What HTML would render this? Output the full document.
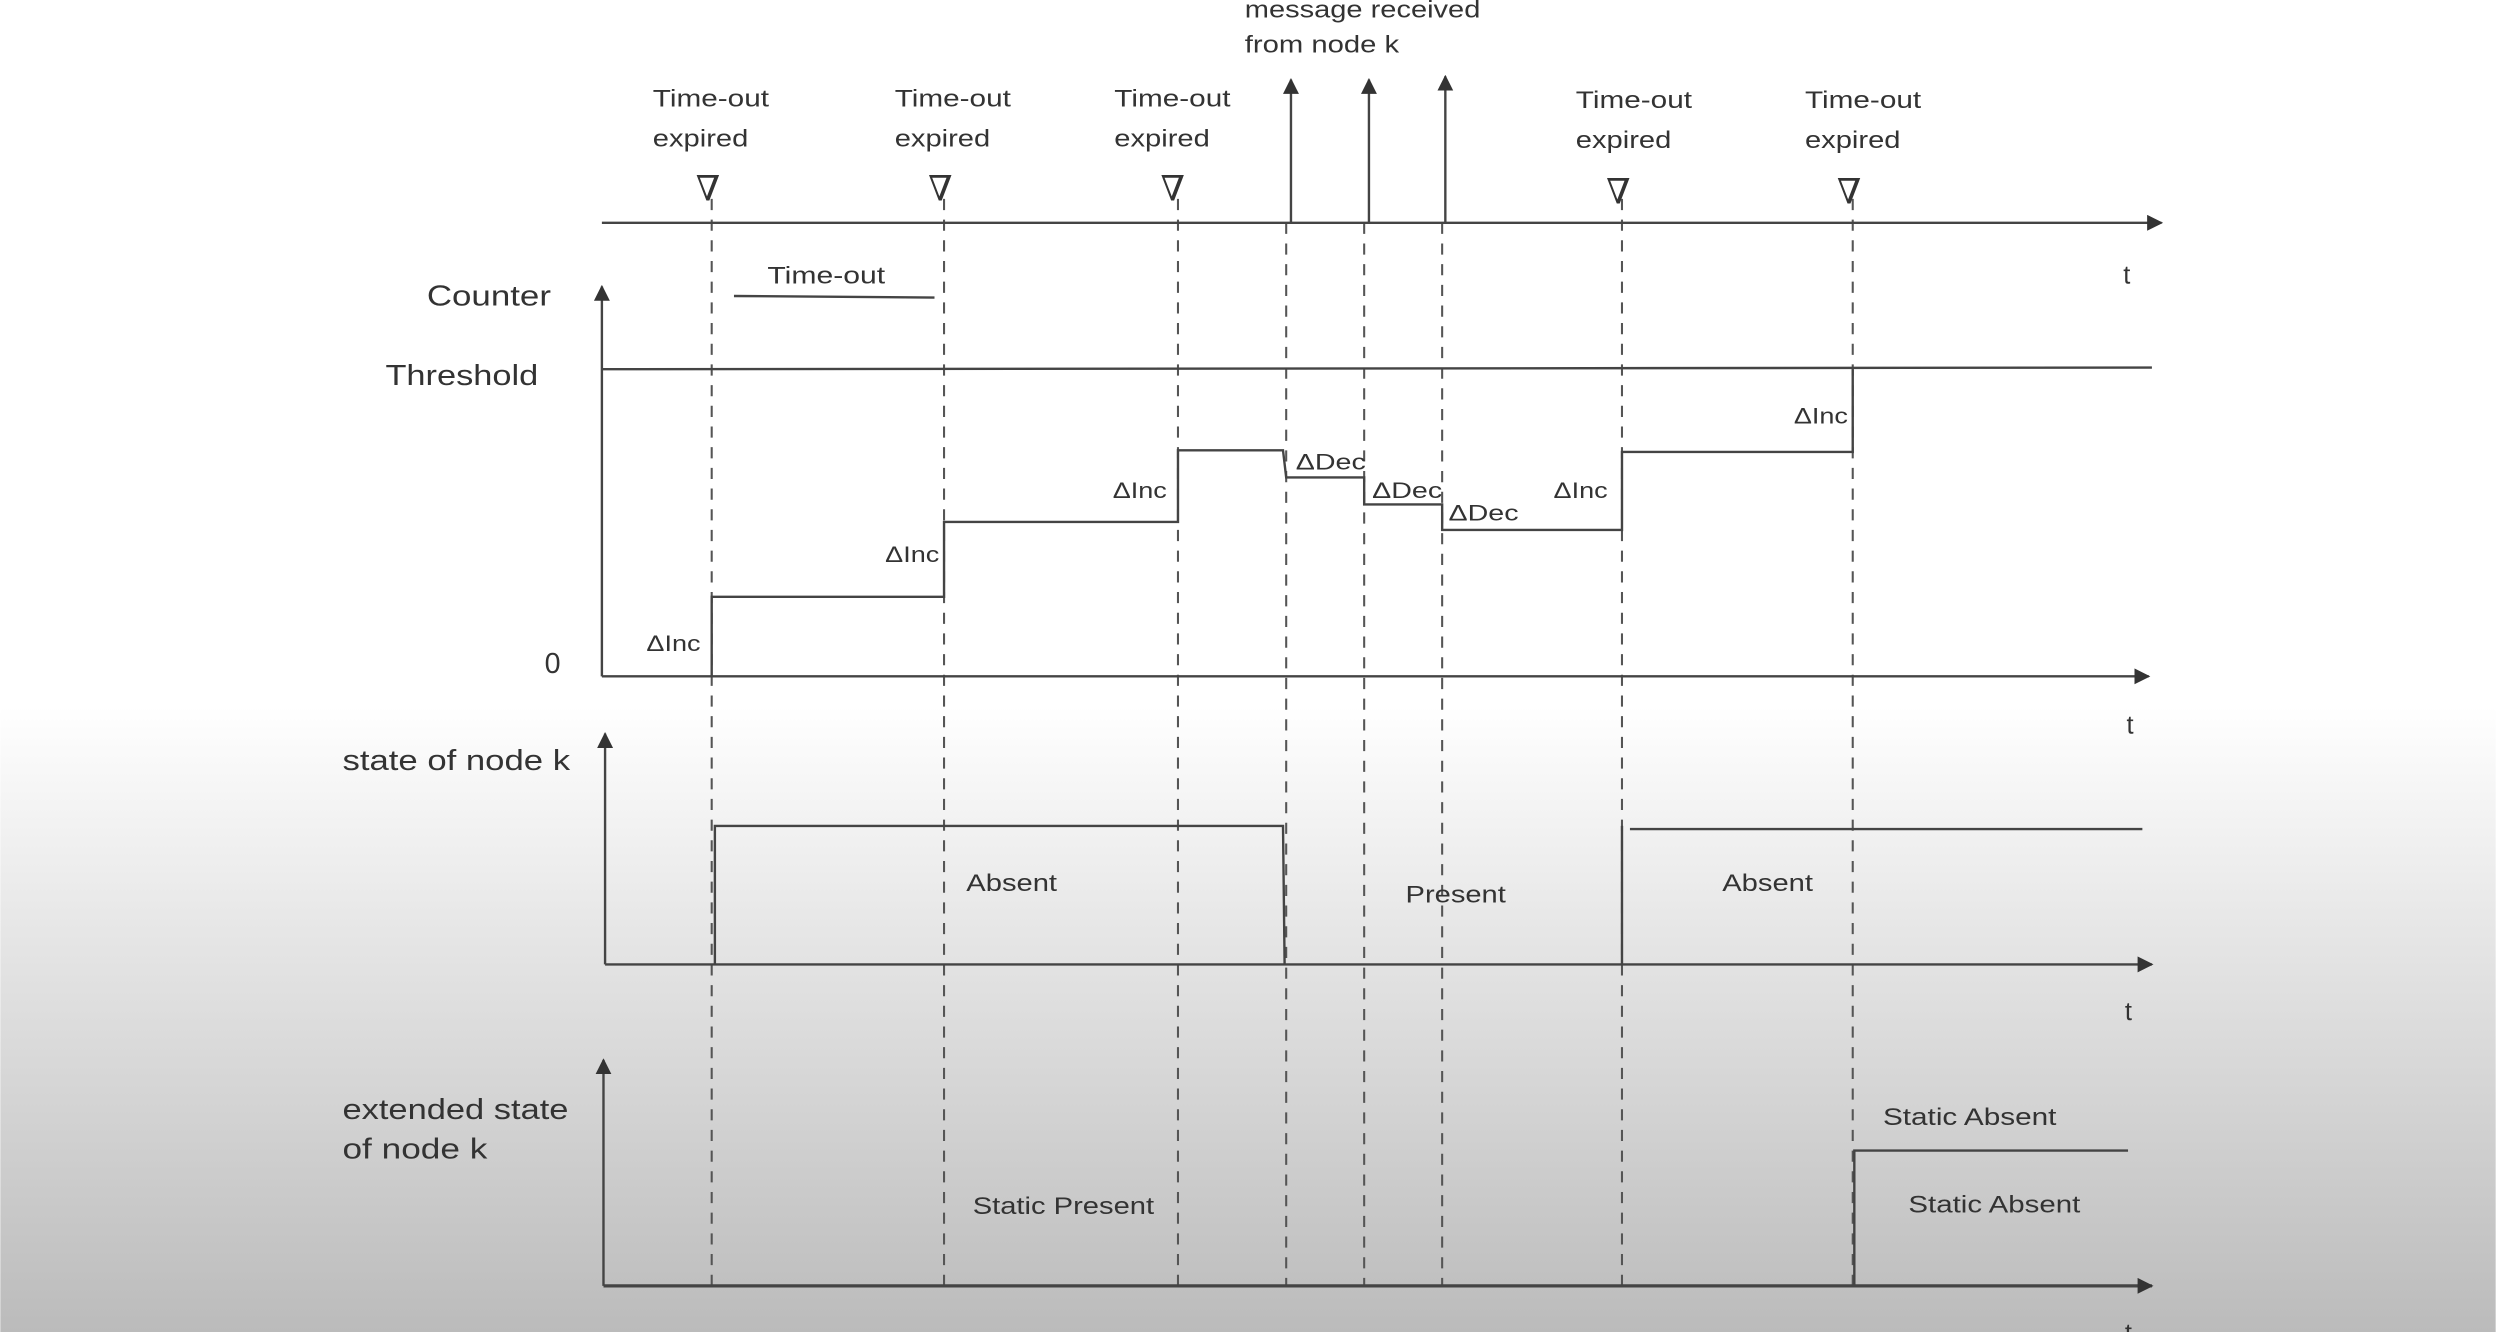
<!DOCTYPE html>
<html><head><meta charset="utf-8"><style>
html,body{margin:0;padding:0;width:2496px;height:1332px;overflow:hidden;background:#fff}
svg{display:block}
text{font-family:"Liberation Sans",sans-serif;fill:#333}
</style></head><body>
<svg width="2496" height="1332" viewBox="0 0 1568 837" xmlns="http://www.w3.org/2000/svg">
<defs>
<linearGradient id="bg" x1="0" y1="0" x2="0" y2="1">
<stop offset="0" stop-color="#fff"/><stop offset="0.53" stop-color="#fff"/>
<stop offset="0.7" stop-color="#e6e6e6"/><stop offset="1" stop-color="#bbb"/>
</linearGradient>
<marker id="ar" markerWidth="10" markerHeight="10" refX="9" refY="5" orient="auto" markerUnits="userSpaceOnUse">
<path d="M0,0 L10,5 L0,10 z" fill="#333"/></marker>
</defs>
<rect width="1568" height="837" fill="url(#bg)"/>
<g stroke="#555" stroke-width="1.3" stroke-dasharray="7,6" fill="none">
<line x1="447" y1="125" x2="447" y2="808"/><line x1="593" y1="125" x2="593" y2="808"/>
<line x1="740" y1="125" x2="740" y2="808"/><line x1="808" y1="140" x2="808" y2="808"/>
<line x1="857" y1="140" x2="857" y2="808"/><line x1="906" y1="140" x2="906" y2="808"/>
<line x1="1019" y1="125" x2="1019" y2="808"/><line x1="1164" y1="125" x2="1164" y2="808"/>
</g>
<g stroke="#444" stroke-width="1.5" fill="none">
<line x1="378" y1="140" x2="1358" y2="140" marker-end="url(#ar)"/>
<line x1="811" y1="140" x2="811" y2="50" marker-end="url(#ar)"/>
<line x1="860" y1="140" x2="860" y2="50" marker-end="url(#ar)"/>
<line x1="908" y1="140" x2="908" y2="48" marker-end="url(#ar)"/>
<line x1="461" y1="186" x2="587" y2="187"/>
<line x1="378" y1="425" x2="378" y2="180" marker-end="url(#ar)"/>
<line x1="378" y1="232" x2="1352" y2="231"/>
<line x1="378" y1="425" x2="1350" y2="425" marker-end="url(#ar)"/>
<polyline points="447,425 447,375 593,375 593,328 740,328 740,283 806,283 808,300 857,300 857,317 906,317 906,333 1019,333 1019,284 1164,284 1164,232"/>
<line x1="380" y1="606" x2="380" y2="461" marker-end="url(#ar)"/>
<line x1="380" y1="606" x2="1352" y2="606" marker-end="url(#ar)"/>
<polyline points="449,606 449,519 806,519 807,606"/>
<line x1="1019" y1="606" x2="1019" y2="519"/>
<line x1="1024" y1="521" x2="1346" y2="521"/>
<line x1="379" y1="808" x2="379" y2="666" marker-end="url(#ar)"/>
<line x1="379" y1="808" x2="1352" y2="808" stroke-width="2" marker-end="url(#ar)"/>
<polyline points="1165,808 1165,723 1337,723"/>
</g>
<g font-size="15" lengthAdjust="spacingAndGlyphs">
<text x="782" y="11" textLength="148" lengthAdjust="spacingAndGlyphs">message received</text><text x="782" y="33" textLength="97" lengthAdjust="spacingAndGlyphs">from node k</text>
<text x="410" y="67" textLength="73" lengthAdjust="spacingAndGlyphs">Time-out</text><text x="410" y="92" textLength="60" lengthAdjust="spacingAndGlyphs">expired</text>
<text x="562" y="67" textLength="73" lengthAdjust="spacingAndGlyphs">Time-out</text><text x="562" y="92" textLength="60" lengthAdjust="spacingAndGlyphs">expired</text>
<text x="700" y="67" textLength="73" lengthAdjust="spacingAndGlyphs">Time-out</text><text x="700" y="92" textLength="60" lengthAdjust="spacingAndGlyphs">expired</text>
<text x="990" y="68" textLength="73" lengthAdjust="spacingAndGlyphs">Time-out</text><text x="990" y="93" textLength="60" lengthAdjust="spacingAndGlyphs">expired</text>
<text x="1134" y="68" textLength="73" lengthAdjust="spacingAndGlyphs">Time-out</text><text x="1134" y="93" textLength="60" lengthAdjust="spacingAndGlyphs">expired</text>
<text x="482" y="178" textLength="74" lengthAdjust="spacingAndGlyphs">Time-out</text>
<text x="406" y="409" font-size="14" textLength="34" lengthAdjust="spacingAndGlyphs">ΔInc</text><text x="556" y="353" font-size="14" textLength="34" lengthAdjust="spacingAndGlyphs">ΔInc</text>
<text x="699" y="313" font-size="14" textLength="34" lengthAdjust="spacingAndGlyphs">ΔInc</text><text x="976" y="313" font-size="14" textLength="34" lengthAdjust="spacingAndGlyphs">ΔInc</text>
<text x="1127" y="266" font-size="14" textLength="34" lengthAdjust="spacingAndGlyphs">ΔInc</text>
<text x="814" y="295" font-size="14" textLength="44" lengthAdjust="spacingAndGlyphs">ΔDec</text><text x="862" y="313" font-size="14" textLength="44" lengthAdjust="spacingAndGlyphs">ΔDec</text>
<text x="910" y="327" font-size="14" textLength="44" lengthAdjust="spacingAndGlyphs">ΔDec</text>
<text x="607" y="560" textLength="57" lengthAdjust="spacingAndGlyphs">Absent</text><text x="883" y="567" textLength="63" lengthAdjust="spacingAndGlyphs">Present</text><text x="1082" y="560" textLength="57" lengthAdjust="spacingAndGlyphs">Absent</text>
<text x="611" y="763" textLength="114" lengthAdjust="spacingAndGlyphs">Static Present</text><text x="1183" y="707" textLength="109" lengthAdjust="spacingAndGlyphs">Static Absent</text><text x="1199" y="762" textLength="108" lengthAdjust="spacingAndGlyphs">Static Absent</text>
</g>
<g font-size="22">
<text x="437" y="126" style="font-family:'DejaVu Serif',serif">∇</text>
<text x="583" y="126" style="font-family:'DejaVu Serif',serif">∇</text>
<text x="729" y="126" style="font-family:'DejaVu Serif',serif">∇</text>
<text x="1009" y="128" style="font-family:'DejaVu Serif',serif">∇</text>
<text x="1154" y="128" style="font-family:'DejaVu Serif',serif">∇</text>
</g>
<g font-size="16">
<text x="1334" y="178">t</text><text x="1336" y="461">t</text><text x="1335" y="641">t</text><text x="1335" y="843">t</text>
</g>
<g font-size="18">
<text x="268" y="192" textLength="78" lengthAdjust="spacingAndGlyphs">Counter</text><text x="242" y="242" textLength="96" lengthAdjust="spacingAndGlyphs">Threshold</text><text x="342" y="423">0</text>
<text x="215" y="484" textLength="143" lengthAdjust="spacingAndGlyphs">state of node k</text>
<text x="215" y="703" textLength="142" lengthAdjust="spacingAndGlyphs">extended state</text><text x="215" y="728" textLength="91" lengthAdjust="spacingAndGlyphs">of node k</text>
</g>
</svg>
</body></html>
